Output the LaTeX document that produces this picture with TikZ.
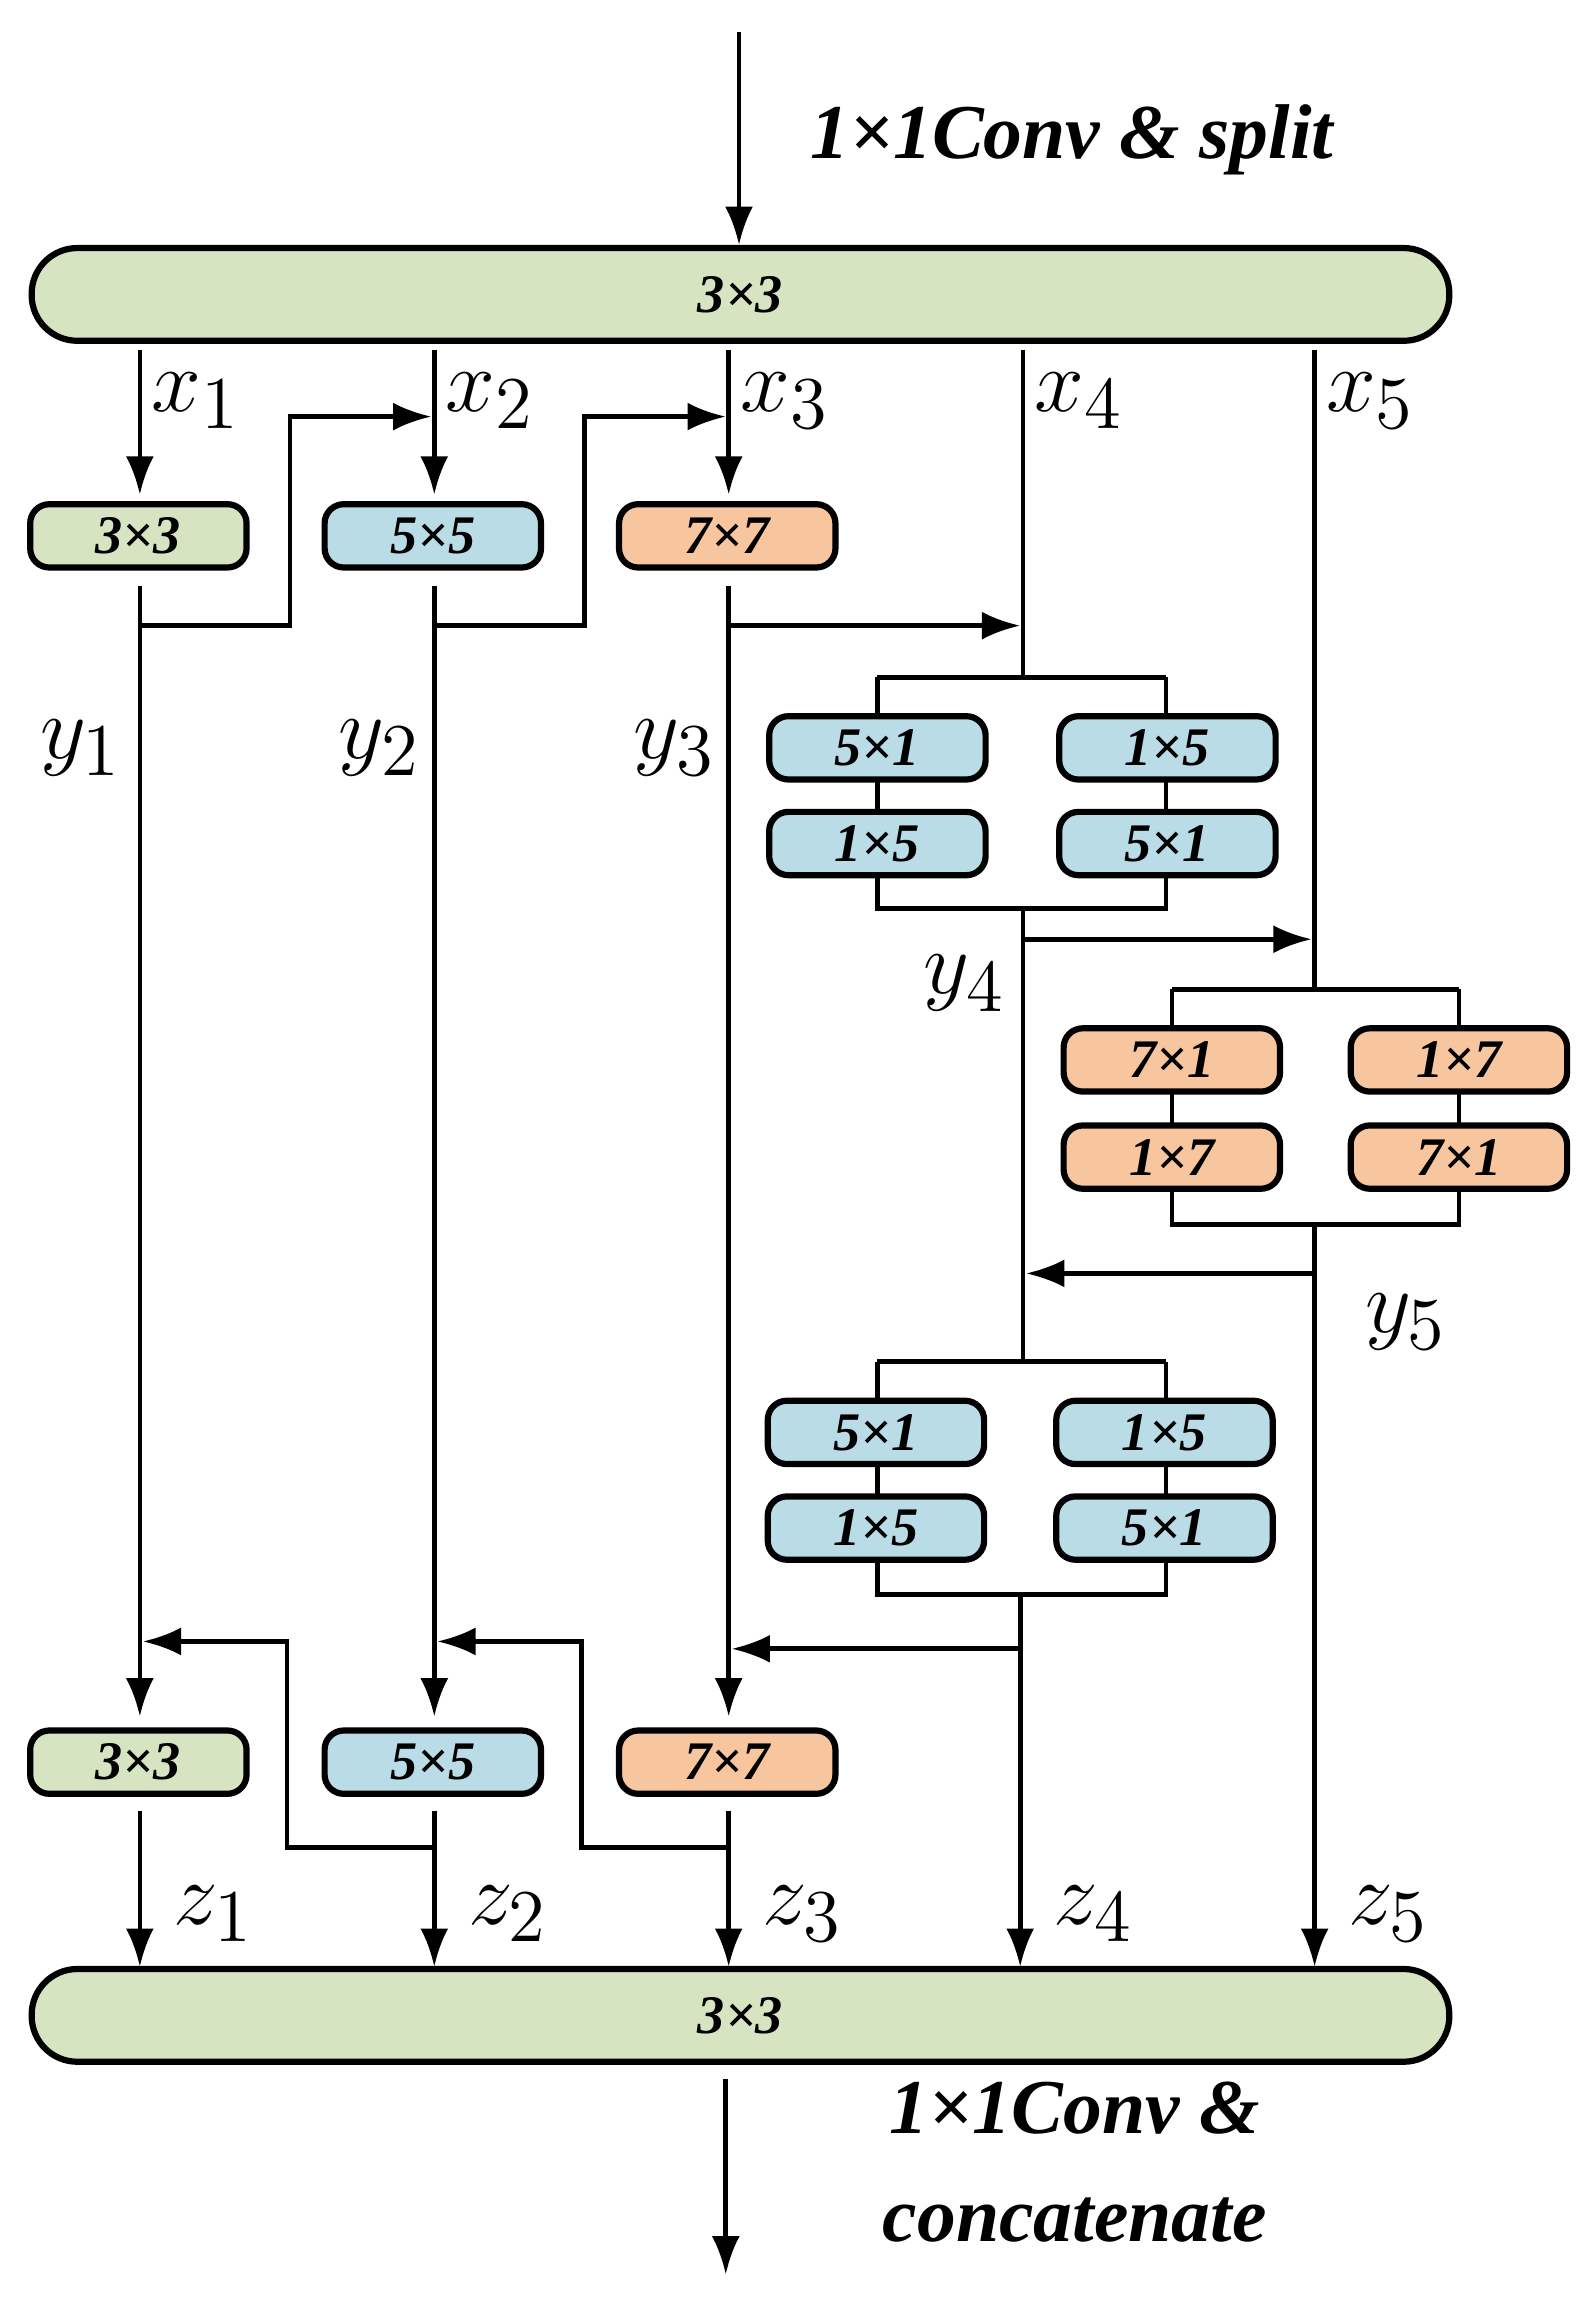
\documentclass[tikz,border=0pt]{standalone}
\usepackage{fontspec}
\setmainfont{Liberation Serif}
\usetikzlibrary{arrows.meta}
\definecolor{cg}{HTML}{D7E4C1}
\definecolor{cb}{HTML}{B9DCE7}
\definecolor{co}{HTML}{F8C69E}
\begin{document}
\begin{tikzpicture}[x=0.1mm,y=-0.1mm,
  ln/.style={line width=0.9pt},
  ar/.style={ln,-{Latex[length=2.6mm,width=1.9mm]}},
  bx/.style={draw,line width=1.2pt,rounded corners=1.3mm,minimum width=14.7mm,minimum height=4.3mm,inner sep=0pt,font=\bfseries\itshape\fontsize{10.5}{12}\selectfont},
  bar/.style={draw,line width=1.2pt,rounded corners=3.1mm,minimum width=96.3mm,minimum height=6.3mm,inner sep=0pt,fill=cg,font=\bfseries\itshape\fontsize{10.5}{12}\selectfont},
  lab/.style={font=\fontsize{19}{22}\selectfont},
  big/.style={font=\bfseries\itshape\fontsize{15}{18}\selectfont}]
\useasboundingbox (0,0) rectangle (1080,1561);
% top
\coordinate (tin) at (502,22);
\node[bar] (top) at (503,200) {3×3};
\draw[ar] (tin) -- (top.north-|tin);
\node[big] (tl) at (728,95) {1×1Conv \& split};
% row 1 boxes
\node[bx,fill=cg] (a1) at (94,364) {3×3};
\node[bx,fill=cb] (a2) at (294,364) {5×5};
\node[bx,fill=co] (a3) at (494,364) {7×7};
% row 2 boxes
\node[bx,fill=cg] (b1) at (94,1197) {3×3};
\node[bx,fill=cb] (b2) at (294,1197) {5×5};
\node[bx,fill=co] (b3) at (494,1197) {7×7};
\node[bar] (bot) at (503,1369) {3×3};
% x arrows
\foreach \i/\x in {1/95,2/295,3/495}{
  \coordinate (xs\i) at (\x,238);
  \draw[ar] (xs\i) -- (\x,336);
}
\foreach \i/\x in {1/95,2/295,3/495,4/695,5/893}
  \node[lab] (xl\i) at (\x+38,272) {$x_{\i}$};
% y lines cols 1-3
\foreach \i/\x in {1/95,2/295,3/495}{
  \coordinate (ys\i) at (\x,398);
  \draw[ar] (ys\i) -- (\x,1166);
}
\node[lab] (yl1) at (55,508) {$y_1$};
\node[lab] (yl2) at (258,508) {$y_2$};
\node[lab] (yl3) at (458,508) {$y_3$};
% cross connections top
\draw[ar] (95,425) -- (197,425) -- (197,283) -- (293,283);
\draw[ar] (295,425) -- (397,425) -- (397,283) -- (493,283);
\draw[ar] (495,425) -- (693,425);
% column 4 blocks
\newcommand{\blk}[7]{% y top, y bottom, xl, xr, fill, labels
  \draw[ln] (#3,#1) -- (#4,#1);
  \draw[ln] (#3,#1) -- (#3,#2) -- (#4,#2) -- (#4,#1);
}
\draw[ln] (695,238) -- (695,460);
\blk{460}{617}{596}{792}{}{}{}
\node[bx,fill=cb] (c1) at (596,508) {5×1};
\node[bx,fill=cb] (c2) at (596,573) {1×5};
\node[bx,fill=cb] (c3) at (793,508) {1×5};
\node[bx,fill=cb] (c4) at (793,573) {5×1};
\draw[ln] (695,617) -- (695,925);
\draw[ar] (695,638) -- (891,638);
\node[lab] (yl4) at (655,668) {$y_4$};
% column 5
\draw[ln] (893,238) -- (893,672);
\blk{672}{832}{796}{991}{}{}{}
\node[bx,fill=co] (d1) at (796,720) {7×1};
\node[bx,fill=co] (d2) at (796,786) {1×7};
\node[bx,fill=co] (d3) at (991,720) {1×7};
\node[bx,fill=co] (d4) at (991,786) {7×1};
\draw[ar] (893,832) -- (893,1336);
\draw[ar] (893,865) -- (697,865);
\node[lab] (yl5) at (955,898) {$y_5$};
% column 4 second block
\blk{925}{1083}{596}{792}{}{}{}
\node[bx,fill=cb] (e1) at (595,973) {5×1};
\node[bx,fill=cb] (e2) at (595,1038) {1×5};
\node[bx,fill=cb] (e3) at (791,973) {1×5};
\node[bx,fill=cb] (e4) at (791,1038) {5×1};
\draw[ar] (693,1083) -- (693,1336);
\draw[ar] (693,1120) -- (497,1120);
% cross connections bottom
\draw[ar] (495,1230) -- (495,1255) -- (395,1255) -- (395,1115) -- (297,1115);
\draw[ar] (295,1230) -- (295,1255) -- (195,1255) -- (195,1115) -- (97,1115);
\foreach \x in {95,295,495}
  \draw[ar] (\x,1230) -- (\x,1336);
\foreach \i/\x in {1/95,2/295,3/495,4/693,5/893}
  \node[lab] (zl\i) at (\x+50,1300) {$z_{\i}$};
% bottom output
\coordinate (bo) at (493,1545);
\draw[ar] (493,1412) -- (bo);
\node[big] (bl1) at (730,1432) {1×1Conv \&};
\node[big] (bl2) at (730,1508) {concatenate};
\end{tikzpicture}
\end{document}
